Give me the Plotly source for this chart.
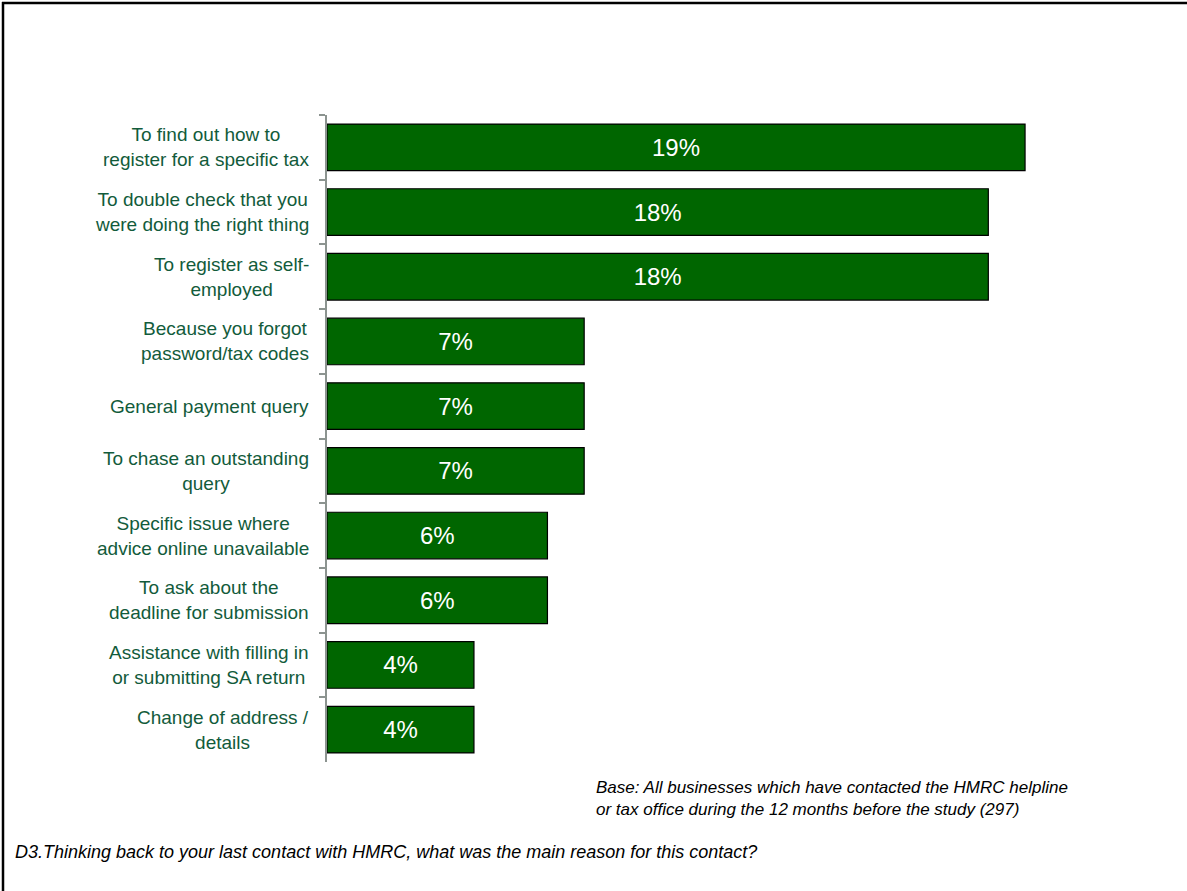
import plotly.graph_objects as go

# Reasons for last contact with HMRC (% of businesses), top to bottom
reasons = [
    "To find out how to<br>register for a specific tax",
    "To double check that you<br>were doing the right thing",
    "To register as self-<br>employed",
    "Because you forgot<br>password/tax codes",
    "General payment query",
    "To chase an outstanding<br>query",
    "Specific issue where<br>advice online unavailable",
    "To ask about the<br>deadline for submission",
    "Assistance with filling in<br>or submitting SA return",
    "Change of address /<br>details",
]
shares = [19, 18, 18, 7, 7, 7, 6, 6, 4, 4]
value_labels = [f"{v}%" for v in shares]

base_note = ("Base: All businesses which have contacted the HMRC helpline<br>"
             "or tax office during the 12 months before the study (297)")
question = ("D3.Thinking back to your last contact with HMRC, what was the "
            "main reason for this contact?")

FONT = "Liberation Sans, Arial, sans-serif"
W, H = 1187, 891
L, R, T, B = 327, 52, 115, 129
pw, ph = W - L - R, H - T - B


def px_x(px):
    return (px - L) / pw


def px_y(py):
    return (H - B - py) / ph


fig = go.Figure(
    go.Bar(
        x=shares,
        y=reasons,
        orientation="h",
        width=0.72,
        marker=dict(color="#006600", line=dict(color="#000000", width=1.2)),
        text=value_labels,
        textposition="inside",
        insidetextanchor="middle",
        textangle=0,
        textfont=dict(color="#ffffff", size=24, family=FONT),
        hoverinfo="skip",
    )
)

annotations = []
for r in reasons:
    annotations.append(dict(
        x=0, xref="paper", y=r, yref="y",
        text=r, showarrow=False, align="center",
        xanchor="right", yanchor="middle", xshift=-16,
        font=dict(color="#125b3b", size=19, family=FONT),
    ))

annotations.append(dict(
    x=px_x(594), xref="paper", y=px_y(776), yref="paper",
    text=f"<i>{base_note}</i>", showarrow=False, align="left",
    xanchor="left", yanchor="top",
    font=dict(color="#000000", size=17, family=FONT),
))
annotations.append(dict(
    x=px_x(13), xref="paper", y=px_y(852), yref="paper",
    text=f"<i>{question}</i>", showarrow=False, align="left",
    xanchor="left", yanchor="middle",
    font=dict(color="#000000", size=18, family=FONT),
))

shapes = [
    dict(type="line", xref="paper", yref="paper",
         x0=px_x(2), x1=px_x(1200), y0=px_y(3), y1=px_y(3),
         line=dict(color="#000000", width=2.5)),
    dict(type="line", xref="paper", yref="paper",
         x0=px_x(3), x1=px_x(3), y0=px_y(2), y1=px_y(900),
         line=dict(color="#000000", width=2.5)),
]

fig.update_layout(
    width=W, height=H,
    margin=dict(l=L, r=R, t=T, b=B),
    paper_bgcolor="#ffffff", plot_bgcolor="#ffffff",
    showlegend=False,
    bargap=0.28,
    annotations=annotations,
    shapes=shapes,
    xaxis=dict(range=[0, pw / 36.74], showgrid=False, zeroline=False,
               showticklabels=False, showline=False, ticks=""),
    yaxis=dict(autorange="reversed", categoryorder="array", categoryarray=reasons,
               showgrid=False, zeroline=False, showticklabels=False,
               showline=True, linecolor="#8c9490", linewidth=2,
               ticks="outside", tickson="boundaries", ticklen=6,
               tickcolor="#8c9490", tickwidth=1.5),
    uniformtext=dict(mode="show", minsize=10),
)

fig.write_html("out.html")
